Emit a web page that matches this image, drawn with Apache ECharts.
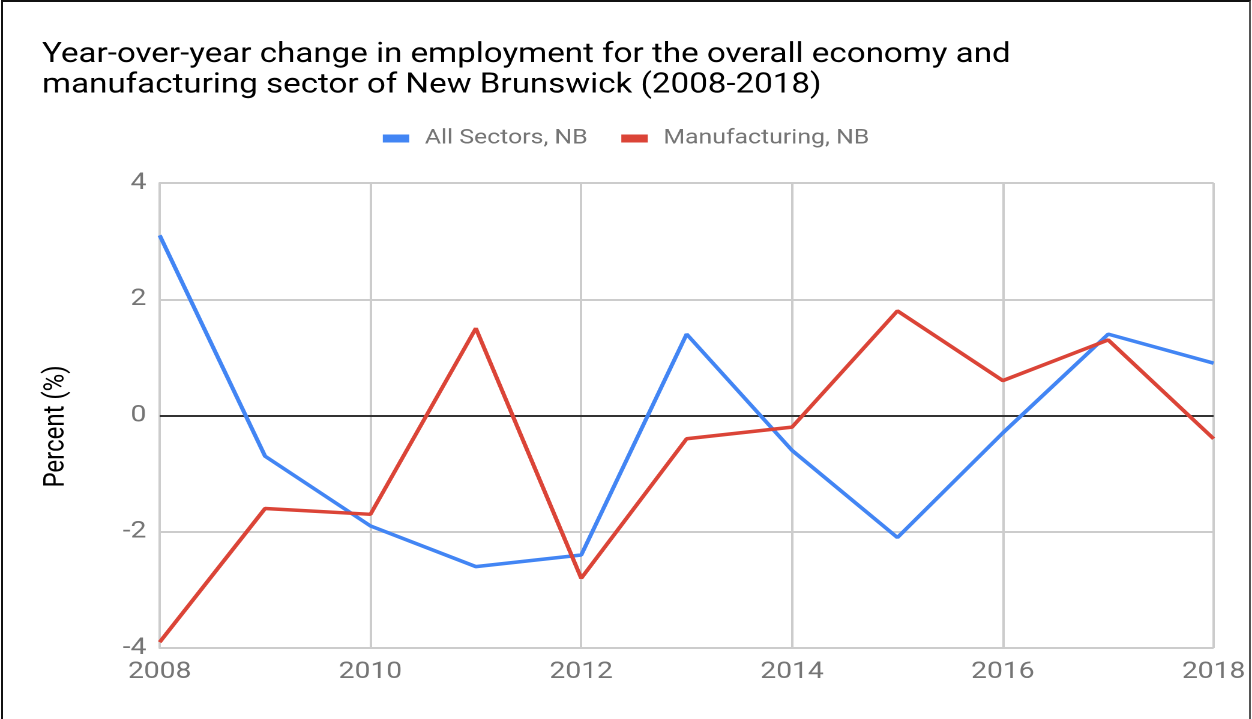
<!DOCTYPE html>
<html>
<head>
<meta charset="utf-8">
<style>
  html, body { margin: 0; padding: 0; background: #fff; overflow: hidden; }
  #wrap { position: absolute; left: 0; top: 0; width: 1252px; height: 719px; overflow: hidden; }
  /* the chart is laid out narrower and widened horizontally */
  #chart { position: absolute; left: 0; top: 0; width: 1043px; height: 719px;
           transform: scaleX(1.2004); transform-origin: 0 0; }
  #frame {
    position: absolute; left: 1px; top: 0; width: 1250px; height: 740px;
    border-left: 2px solid #111; border-top: 2px solid #111; border-right: 2px solid #555;
    pointer-events: none; box-sizing: border-box;
  }
</style>
<script src="https://cdn.jsdelivr.net/npm/echarts@6/dist/echarts.min.js"></script>
</head>
<body>
<div id="wrap">
  <div id="chart"></div>
  <div id="frame"></div>
</div>
<script>
// Year-over-year employment change, New Brunswick
const years = [2008, 2009, 2010, 2011, 2012, 2013, 2014, 2015, 2016, 2017, 2018];
const allSectors = [3.1, -0.7, -1.9, -2.6, -2.4, 1.4, -0.6, -2.1, -0.3, 1.4, 0.9];
const manufacturing = [-3.9, -1.6, -1.7, 1.5, -2.8, -0.4, -0.2, 1.8, 0.6, 1.3, -0.4];
const seriesNames = ['All Sectors, NB', 'Manufacturing, NB'];
const titleText = 'Year-over-year change in employment for the overall economy and\nmanufacturing sector of New Brunswick (2008-2018)';
const yAxisName = 'Percent (%)';

const font = 'Roboto, "Noto Sans", sans-serif';
const pairs = (vals) => years.map((y, i) => [y, vals[i]]);

const chart = echarts.init(document.getElementById('chart'), null, { renderer: 'canvas', devicePixelRatio: 2 });
chart.setOption({
  animation: false,
  backgroundColor: '#fff',
  textStyle: { fontFamily: font },
  title: {
    text: titleText,
    left: 30,
    top: 35,
    textStyle: { fontFamily: font, fontSize: 27.6, fontWeight: 'normal', color: '#000', lineHeight: 30.5 }
  },
  legend: {
    data: seriesNames,
    left: 'center',
    top: 123,
    icon: 'rect',
    itemWidth: 22,
    itemHeight: 8,
    itemGap: 28,
    textStyle: { fontFamily: font, fontSize: 20.7, color: '#757575', padding: [0, 0, 0, 8] }
  },
  grid: { left: 133, right: 32, top: 183, bottom: 71, containLabel: false },
  xAxis: {
    type: 'value',
    min: 2008,
    max: 2018,
    interval: 2,
    axisLine: { show: false },
    axisTick: { show: false },
    axisLabel: { fontFamily: font, fontSize: 23.5, color: '#757575', margin: 12, formatter: (v) => String(v) },
    splitLine: { show: true, lineStyle: { color: '#cccccc', width: 2 } }
  },
  yAxis: {
    type: 'value',
    min: -4,
    max: 4,
    interval: 2,
    name: yAxisName,
    nameLocation: 'middle',
    nameGap: 74,
    nameTextStyle: { fontFamily: font, fontSize: 24, color: '#000', padding: [0, 22, 0, 0] },
    axisLine: { show: true, onZero: false, lineStyle: { color: '#cccccc', width: 2 } },
    axisTick: { show: false },
    axisLabel: { fontFamily: font, fontSize: 23.5, color: '#757575', margin: 11 },
    splitLine: { show: true, lineStyle: { color: '#cccccc', width: 2 } }
  },
  series: [
    {
      name: seriesNames[0],
      type: 'line',
      data: pairs(allSectors),
      symbol: 'none',
      color: '#4285F4',
      lineStyle: { width: 3.5, color: '#4285F4' },
      z: 3,
      markLine: {
        silent: true,
        symbol: 'none',
        label: { show: false },
        lineStyle: { color: '#333', width: 2, type: 'solid' },
        data: [{ yAxis: 0 }],
        z: 2
      }
    },
    {
      name: seriesNames[1],
      type: 'line',
      data: pairs(manufacturing),
      symbol: 'none',
      color: '#DB4437',
      lineStyle: { width: 3.5, color: '#DB4437' },
      z: 4
    }
  ]
});
</script>
</body>
</html>
